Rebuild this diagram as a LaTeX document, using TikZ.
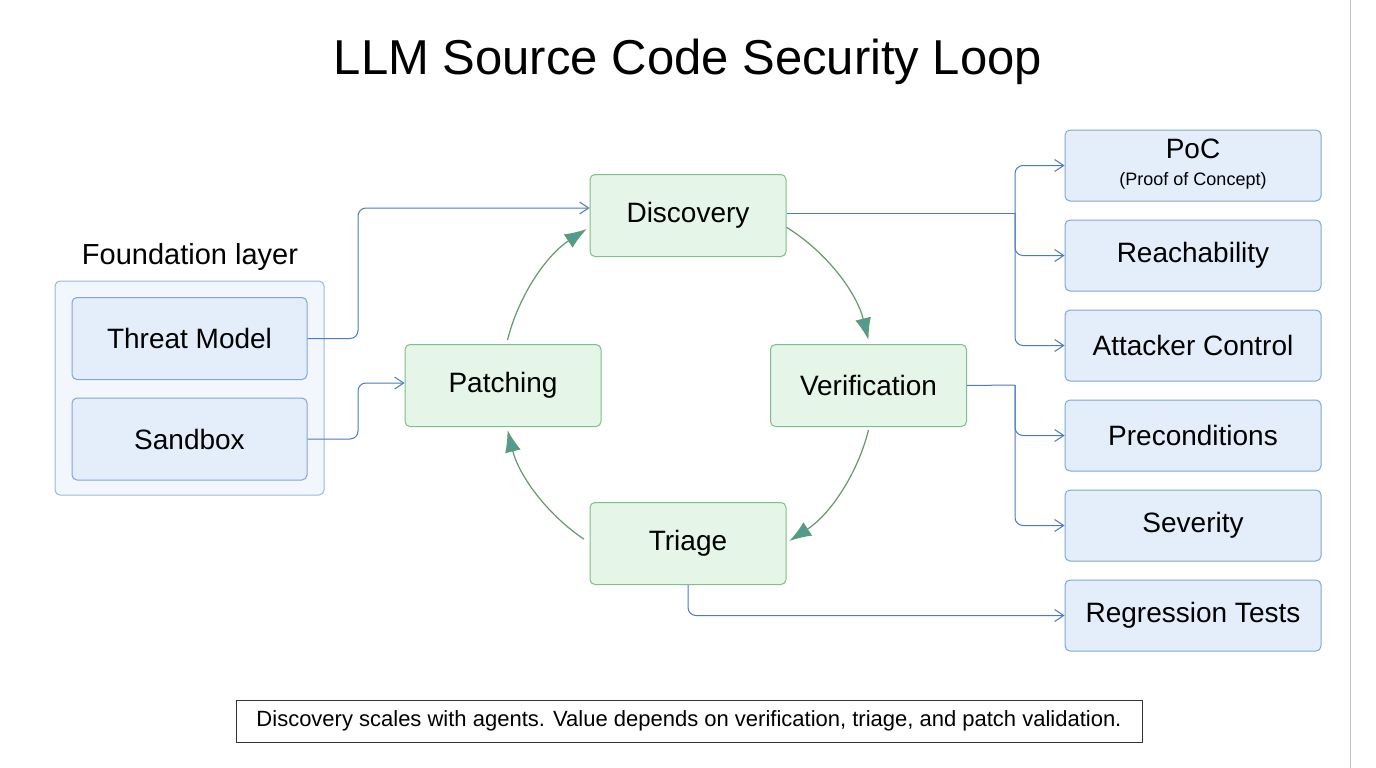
\documentclass[tikz,border=0pt]{standalone}
\usepackage{fontspec}
\setmainfont{Liberation Sans}
\usetikzlibrary{arrows.meta,positioning}
\definecolor{bfill}{HTML}{E4EEFB}
\definecolor{bline}{HTML}{7FA6D8}
\definecolor{gfill}{HTML}{E5F5E7}
\definecolor{gline}{HTML}{7CC08A}
\definecolor{conn}{HTML}{4A7CC0}
\definecolor{ahead}{HTML}{4F9C95}
\begin{document}
\begin{tikzpicture}[x=1pt,y=-1pt,
  bbox/.style={draw=bline,fill=bfill,line width=1pt,rounded corners=5pt,minimum width=235pt,minimum height=82pt,font=\fontsize{28}{32}\selectfont},
  rbox/.style={draw=bline,fill=bfill,line width=1pt,rounded corners=5pt,minimum width=256pt,minimum height=71pt,font=\fontsize{28}{32}\selectfont},
  gbox/.style={draw=gline,fill=gfill,line width=1pt,rounded corners=5pt,minimum width=196pt,minimum height=82pt,font=\fontsize{28}{32}\selectfont},
  conn/.style={draw=conn,line width=1pt,rounded corners=8pt,-{Straight Barb[length=9pt,width=12pt]}},
  cline/.style={draw=conn,line width=1pt,rounded corners=8pt},
  loop/.style={draw=gline!80!black,line width=1.2pt,-{Latex[length=22pt,width=16pt,fill=ahead]}}]
\useasboundingbox (0,0) rectangle (1376,768);
\fill[white] (0,0) rectangle (1376,768);
\draw[gray!50,line width=1pt] (1350,0) -- (1350,768);
\node (title) at (688,62) {\fontsize{49}{56}\selectfont LLM Source Code Security Loop};
\node (flabel) at (190,257) {\fontsize{29}{33}\selectfont Foundation layer};
\node[draw=bline!80,fill=bfill!50,line width=1pt,rounded corners=5pt,minimum width=269pt,minimum height=214pt] (outer) at (189.5,388) {};
\node[bbox] (threat) at (189.5,338.5) {Threat Model};
\node[bbox] (sandbox) at (189.5,439) {Sandbox};
\node[gbox] (disc) at (688,215.5) {Discovery};
\node[gbox] (patch) at (503,385.5) {Patching};
\node[gbox] (verif) at (868.5,385.5) {Verification};
\node[gbox] (triage) at (688,543.5) {Triage};
\node[rbox] (poc) at (1193,165.5) {\begin{tabular}{@{}c@{}}PoC\\[-5pt]{\fontsize{18}{20}\selectfont (Proof of Concept)}\end{tabular}};
\node[rbox] (reach) at (1193,255.5) {Reachability};
\node[rbox] (att) at (1193,345.5) {Attacker Control};
\node[rbox] (pre) at (1193,435.5) {Preconditions};
\node[rbox] (sev) at (1193,525.5) {Severity};
\node[rbox] (reg) at (1193,615.5) {Regression Tests};
\node[draw=black!80,line width=1pt,minimum width=906pt,minimum height=42pt,font=\fontsize{22}{26}\selectfont] (cap) at (689,721) {Discovery scales with agents. Value depends on verification, triage, and patch validation.};
% loop
\draw[loop] (688,385) ++(-58:186) arc[start angle=-58,end angle=-14,radius=186];
\draw[loop] (688,385) ++(14:186) arc[start angle=14,end angle=57,radius=186];
\draw[loop] (688,385) ++(124:186) arc[start angle=124,end angle=166,radius=186];
\draw[loop] (688,385) ++(194:186) arc[start angle=194,end angle=237,radius=186];
% foundation connectors
\draw[conn] (threat.east) -- (358,338.5) -- (358,208) -- (disc.west |- 0,208);
\draw[conn] (sandbox.east) -- (358,439) -- (358,383) -- (patch.west |- 0,383);
% discovery branches
\coordinate (dj) at (1015,213);
\draw[cline] (disc.east |- dj) -- (dj);
\draw[conn] (dj) |- (poc.west);
\draw[conn] (dj) |- (reach.west);
\draw[conn] (dj) |- (att.west);
\coordinate (vj) at (1015,385);
\draw[cline] (verif.east) -- (vj);
\draw[conn] (vj) |- (pre.west);
\draw[conn] (vj) |- (sev.west);
\draw[conn] (triage.south) |- (reg.west);
\end{tikzpicture}
\end{document}
